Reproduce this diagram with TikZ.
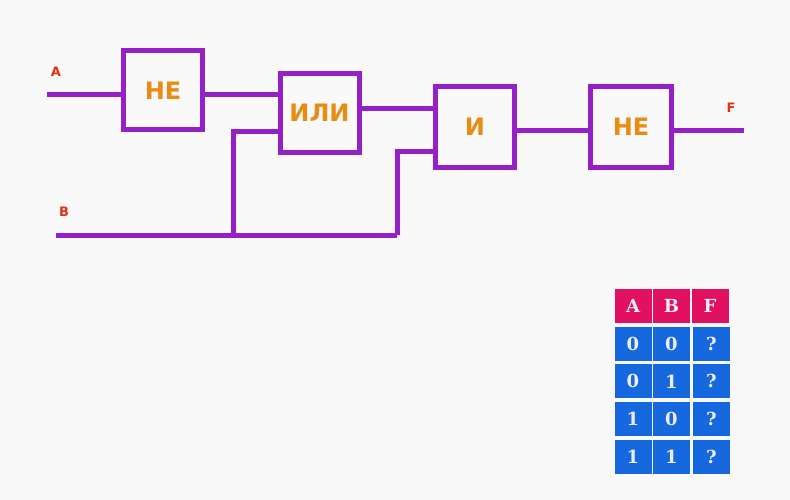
\documentclass[tikz,border=0pt]{standalone}
\usepackage{fontspec}
\setmainfont{DejaVu Sans}
\newfontfamily\tablefont{DejaVu Serif}
\definecolor{wirepurple}{RGB}{150,32,200}
\definecolor{gateorange}{RGB}{232,140,20}
\definecolor{labelred}{RGB}{228,48,24}
\definecolor{headpink}{RGB}{226,16,96}
\definecolor{cellblue}{RGB}{22,104,222}
\definecolor{celltext}{RGB}{236,236,250}
\definecolor{paper}{RGB}{249,249,249}
\begin{document}
\begin{tikzpicture}[x=1pt,y=-1pt,
    wire/.style={wirepurple,line width=5pt},
    gate/.style={draw=wirepurple,line width=5pt,fill=paper,minimum width=79pt,minimum height=79pt,
      inner sep=0pt,text=gateorange,font=\bfseries\fontsize{24}{24}\selectfont},
    pin/.style={text=labelred,inner sep=0pt,font=\bfseries\fontsize{13}{13}\selectfont},
    cell/.style={minimum width=37pt,minimum height=34pt,inner sep=0pt,text=celltext,
      font=\tablefont\bfseries\fontsize{18}{18}\selectfont}]
    \fill[paper] (0,0) rectangle (790,500);
    % gates
    \node[gate] (ne1) at (163,90.5) {НЕ};
    \node[gate] (ili) at (319.5,113) {ИЛИ};
    \node[gate,minimum height=81pt] (i) at (475,127) {И};
    \node[gate,minimum width=81pt,minimum height=81pt] (ne2) at (631,127) {НЕ};
    % inputs and output
    \node[pin] (la) at (56,72) {A};
    \node[pin] (lb) at (64,212) {B};
    \node[pin] (lf) at (731,108) {F};
    \coordinate (a) at (47,95);
    \coordinate (b) at (56,235);
    \coordinate (f) at (744,131);
    \coordinate (j1) at (233,235);
    \coordinate (j2) at (397,235);
    % wires
    \draw[wire] (a) -- (a -| ne1.west);
    \draw[wire] (a -| ne1.east) -- (a -| ili.west);
    \draw[wire] ([yshift=4pt]ili.east) -- ([yshift=4pt]ili.east -| i.west);
    \draw[wire] (b) -- (j2);
    \draw[wire] (j1) |- ([yshift=-19pt]ili.west);
    \draw[wire] (j2) |- ([yshift=-25pt]i.west);
    \draw[wire] ([yshift=-4pt]i.east) -- ([yshift=-4pt]i.east -| ne2.west);
    \draw[wire] ([yshift=-4pt]ne2.east) -- (f);
    % truth table
    \foreach \c [count=\k] in {A,B,F}
      \node[cell,fill=headpink] (h-\k) at ({594.5+38.5*\k},306) {\c};
    \foreach \p/\q [count=\r] in {0/0,0/1,1/0,1/1} {
      \node[cell,fill=cellblue] (c-\r-1) at (633,{306+37.7*\r}) {\p};
      \node[cell,fill=cellblue] (c-\r-2) at (671.5,{306+37.7*\r}) {\q};
      \node[cell,fill=cellblue] (c-\r-3) at (711.5,{306+37.7*\r}) {?};
    }
\end{tikzpicture}
\end{document}
